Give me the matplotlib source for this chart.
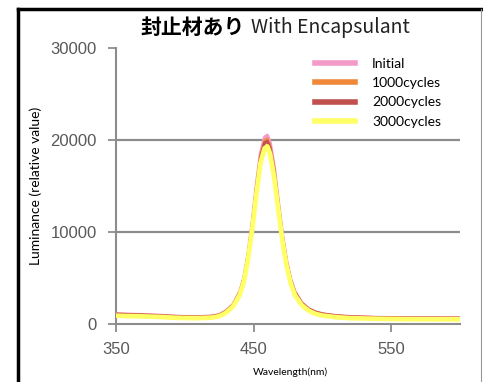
import matplotlib.pyplot as plt
from matplotlib.lines import Line2D

plt.rcParams['font.family'] = ['Liberation Sans', 'Noto Sans CJK JP', 'DejaVu Sans']

# wavelength (nm)
wl = [350, 360, 370, 380, 390, 400, 410, 420, 425, 430, 435, 440, 443, 446, 449,
      452, 455, 458, 460, 462, 465, 468, 471, 474, 477, 480, 485, 490, 495, 500,
      510, 520, 530, 540, 550, 560, 570, 580, 590, 600]

initial = [1100, 1050, 1000, 950, 860, 800, 780, 850, 1000, 1400, 2100, 3500, 5000, 7600, 11000,
           15000, 18500, 20300, 20500, 19700, 17000, 13200, 9600, 6800, 4800, 3500, 2300, 1650, 1300, 1100,
           900, 800, 750, 700, 680, 660, 650, 650, 640, 640]
c1000 = [1080, 1030, 980, 930, 840, 790, 770, 840, 990, 1380, 2080, 3450, 4950, 7500, 10800,
         14800, 18200, 19900, 20100, 19300, 16700, 13000, 9500, 6700, 4750, 3450, 2270, 1630, 1290, 1090,
         890, 790, 740, 700, 680, 660, 650, 640, 640, 640]
c2000 = [1060, 1010, 960, 910, 830, 780, 760, 830, 980, 1360, 2050, 3400, 4900, 7400, 10700,
         14600, 18000, 19700, 19850, 19100, 16500, 12900, 9400, 6650, 4700, 3420, 2250, 1620, 1280, 1080,
         880, 780, 730, 690, 670, 650, 640, 630, 630, 630]
c3000 = [900, 860, 820, 780, 700, 650, 640, 700, 850, 1220, 1900, 3200, 4650, 7100, 10300,
         14100, 17500, 19100, 19300, 18500, 15900, 12400, 9000, 6300, 4400, 3150, 2050, 1450, 1100, 920,
         740, 640, 600, 570, 550, 530, 520, 510, 510, 510]

series = [initial, c1000, c2000, c3000]
labels = ["Initial", "1000cycles", "2000cycles", "3000cycles"]
colors = ["#f49ac8", "#f0883a", "#c0504d", "#ffff66"]
widths = [2.5, 2.2, 2.2, 3.4]

grid_vals = [10000, 20000]
yticks = [0, 10000, 20000, 30000]
xticks = [350, 450, 550]

fig = plt.figure(figsize=(4.83, 3.82), dpi=100)
ax = fig.add_axes([116/483, 1-324/382, (460-116)/483, (324-48)/382])

for yv in grid_vals:
    ax.axhline(yv, color="#8c8c8c", lw=1.6, zorder=1)

for ys, lab, c, w in zip(series, labels, colors, widths):
    ax.plot(wl, ys, color=c, lw=w, label=lab, zorder=3)

ax.set_xlim(350, 600)
ax.set_ylim(0, 30000)
ax.set_xticks(xticks)
ax.set_yticks(yticks)
for s in ['top', 'right']:
    ax.spines[s].set_visible(False)
for s in ['left', 'bottom']:
    ax.spines[s].set_color("#8c8c8c")
    ax.spines[s].set_linewidth(1.5)
ax.tick_params(colors="#8c8c8c", length=6, width=1.3, labelcolor="#595959", labelsize=12)
ax.tick_params(axis='y', pad=8)
ax.tick_params(axis='x', pad=7)

ax.set_xlabel("Wavelength(nm)", fontsize=7.5, family=['Lato', 'DejaVu Sans'])
ax.xaxis.set_label_coords((290-116)/344, -(367-324)/276)
ax.set_ylabel("Luminance (relative value)", fontsize=10, family=['Lato', 'DejaVu Sans'])
ax.yaxis.set_label_coords(-(116-42)/344, (324-186)/276)

leg = ax.legend(loc='upper left', bbox_to_anchor=(308/483, 1-51/382), bbox_transform=fig.transFigure,
                frameon=False, handlelength=2.9, handletextpad=1.2,
                labelspacing=0.52, borderpad=0, prop={'family': ['Lato', 'DejaVu Sans'], 'size': 10})
for h in leg.get_lines():
    h.set_linewidth(4)

fig.text(245/483, 1-27/382, "封止材あり", ha='right', va='center', fontsize=15,
         fontweight='bold', family=['Noto Sans CJK JP'])
fig.text(251/483, 1-27/382, "With Encapsulant", ha='left', va='center', fontsize=14,
         family=['Noto Sans CJK JP'], color="#222222")

# frame around picture
fig.add_artist(Line2D([17.5/483, 17.5/483], [0, 1-8.5/382], color='black', lw=2.5, transform=fig.transFigure))
fig.add_artist(Line2D([17.5/483, 481/483], [1-8.5/382, 1-8.5/382], color='black', lw=2.5, transform=fig.transFigure))
fig.add_artist(Line2D([481/483, 481/483], [0, 1-8.5/382], color='#999999', lw=0.8, transform=fig.transFigure))

fig.savefig("out.png", dpi=100)
